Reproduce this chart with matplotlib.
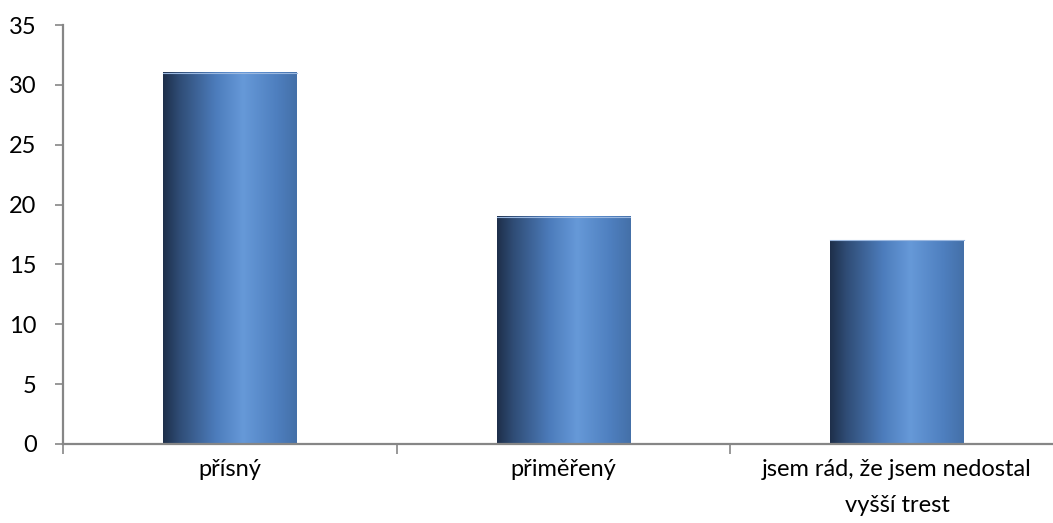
#!/usr/bin/env python3
"""Bar chart with gradient-filled bars."""

import matplotlib
matplotlib.use("Agg")
import matplotlib.pyplot as plt
import numpy as np
from matplotlib.colors import LinearSegmentedColormap

categories = ["přísný", "přiměřený", "jsem rád, že jsem nedostal\nvyšší trest"]
values = [31, 19, 17]
yticks = [0, 5, 10, 15, 20, 25, 30, 35]

plt.rcParams["font.family"] = ["Lato", "DejaVu Sans"]

fig = plt.figure(figsize=(10.53, 5.23), dpi=100)
# axis extends past the right edge like in the original
ax = fig.add_axes([63 / 1053, 79 / 523, 1001 / 1053, 419 / 523])
fig.patch.set_facecolor("white")

cmap = LinearSegmentedColormap.from_list(
    "bar",
    [(0.0, "#1e2f4a"), (0.12, "#2f4c75"), (0.4, "#4d7dbd"),
     (0.6, "#6699d8"), (0.85, "#4e7fbf"), (1.0, "#4470a8")],
)
grad = np.linspace(0, 1, 256).reshape(1, -1)

width = 0.4
x = np.arange(len(categories))
bars = ax.bar(x, values, width=width, color="none", edgecolor="none")
for b in bars:
    x0, y0 = b.get_x(), b.get_y()
    w, h = b.get_width(), b.get_height()
    ax.imshow(grad, cmap=cmap, aspect="auto", extent=[x0, x0 + w, y0, y0 + h],
              zorder=2, interpolation="bicubic")
    ax.plot([x0, x0 + w], [y0 + h, y0 + h], color="#9bb8e0", lw=0.8, zorder=3)

ax.set_xlim(-0.5, len(categories) - 0.5)
ax.set_ylim(0, 35)
ax.set_yticks(yticks)
ax.set_yticklabels([str(t) for t in yticks], fontsize=17)

ax.set_xticks(x)
ax.set_xticklabels(categories, fontsize=17, linespacing=1.85)
ax.tick_params(axis="x", length=0, pad=11)
ax.set_xticks(np.arange(len(categories) + 1) - 0.5, minor=True)
ax.tick_params(axis="x", which="minor", length=7, width=1.2, color="#868686",
               direction="out")
ax.tick_params(axis="y", length=6, width=1.2, color="#868686", pad=13)

for s in ["top", "right"]:
    ax.spines[s].set_visible(False)
for s in ["left", "bottom"]:
    ax.spines[s].set_color("#868686")
    ax.spines[s].set_linewidth(1.6)

fig.savefig("out.png", dpi=100)
